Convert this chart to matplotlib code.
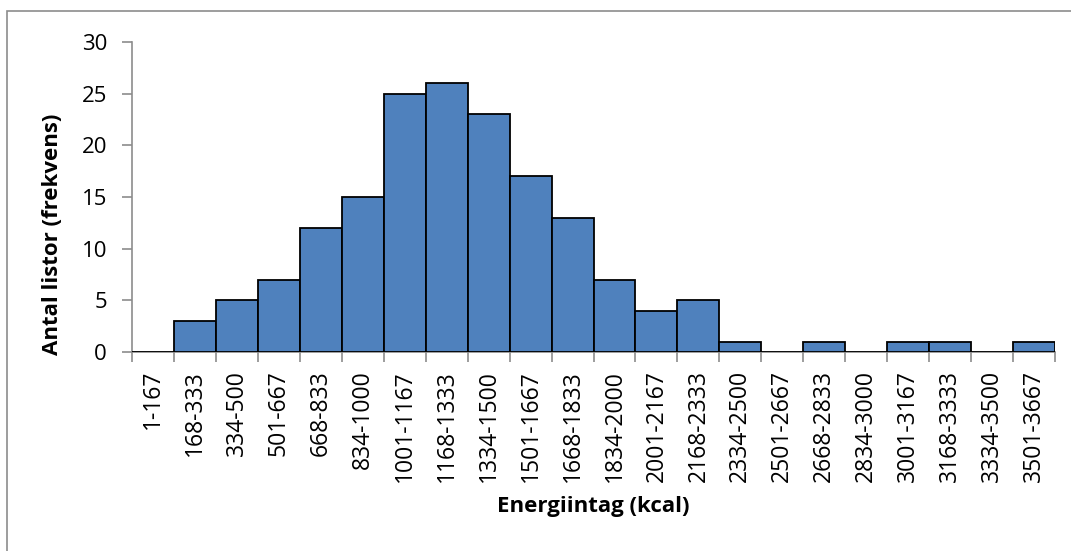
import matplotlib.pyplot as plt
import numpy as np
from matplotlib.patches import Rectangle

categories = [
    "1-167", "168-333", "334-500", "501-667", "668-833", "834-1000",
    "1001-1167", "1168-1333", "1334-1500", "1501-1667", "1668-1833",
    "1834-2000", "2001-2167", "2168-2333", "2334-2500", "2501-2667",
    "2668-2833", "2834-3000", "3001-3167", "3168-3333", "3334-3500",
    "3501-3667",
]
counts = [0, 3, 5, 7, 12, 15, 25, 26, 23, 17, 13, 7, 4, 5, 1, 0, 1, 0, 1, 1, 0, 1]
y_ticks = [0, 5, 10, 15, 20, 25, 30]

plt.rcParams["font.family"] = ["Open Sans", "DejaVu Sans"]

fig = plt.figure(figsize=(10.71, 5.51), dpi=100)
# grey chart-area frame, as in the spreadsheet export
fig.patches.append(Rectangle((7 / 1071, -0.1), 1.1, 1 - 11 / 551 + 0.1,
                             transform=fig.transFigure, fill=False,
                             edgecolor="#8c8c8c", lw=1.2))

ax = fig.add_axes([132 / 1071, 1 - 352 / 551, (1055 - 132) / 1071, (352 - 42) / 551])
x = np.arange(len(categories))
ax.bar(x, counts, width=1.0, color="#4F81BD", edgecolor="black", linewidth=1.3, zorder=3)

ax.set_xlim(-0.5, len(categories) - 0.5)
ax.set_ylim(0, 30)
ax.set_yticks(y_ticks)
ax.set_yticklabels([str(v) for v in y_ticks], fontsize=16)

ax.set_xticks(x)
ax.set_xticklabels(categories, rotation=90, fontsize=16.5)
ax.tick_params(axis="x", length=0, pad=13)
ax.set_xticks(np.arange(len(categories) + 1) - 0.5, minor=True)
ax.tick_params(axis="x", which="minor", length=7, color="#8c8c8c", width=1.2)
ax.tick_params(axis="y", length=7, color="#8c8c8c", width=1.2, pad=11)

for side in ["top", "right"]:
    ax.spines[side].set_visible(False)
for side in ["left", "bottom"]:
    ax.spines[side].set_color("#8c8c8c")
    ax.spines[side].set_linewidth(1.2)

ax.set_ylabel("Antal listor (frekvens)", fontsize=16, fontweight="bold")
ax.yaxis.set_label_coords(-0.075, 0.38)
ax.set_xlabel("Energiintag (kcal)", fontsize=16, fontweight="bold", labelpad=10)

fig.savefig("out.png", dpi=100)
